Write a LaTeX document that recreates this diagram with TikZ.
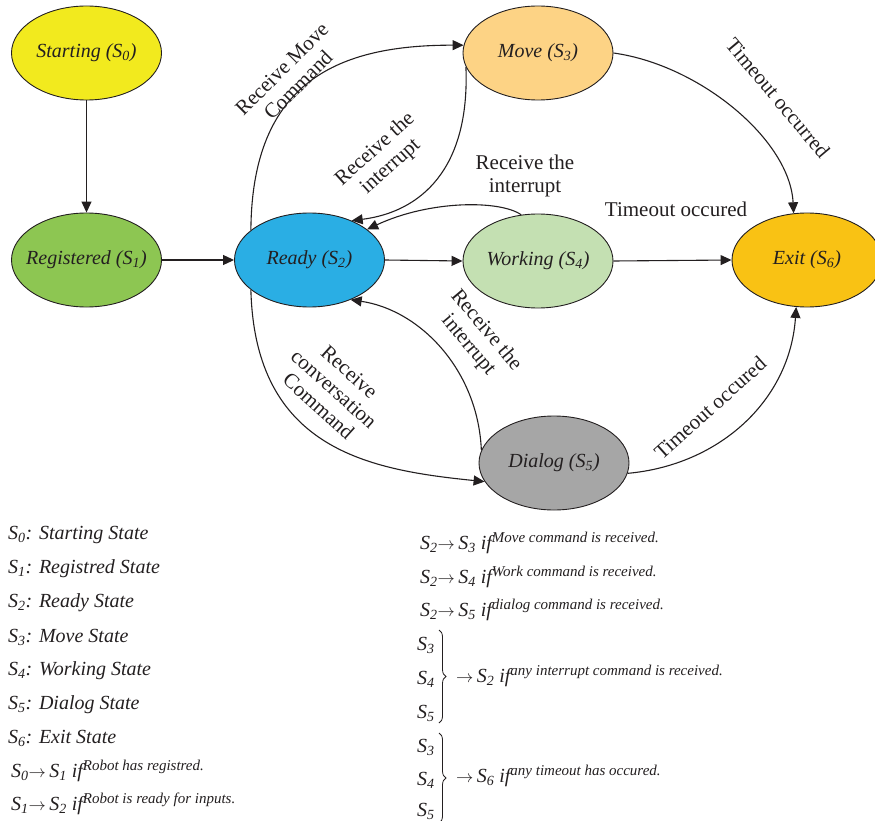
\documentclass[tikz,border=0pt]{standalone}
\usepackage{fontspec}
\setmainfont{Liberation Serif}
\usetikzlibrary{arrows.meta,shapes.geometric,decorations.pathreplacing}
\definecolor{ink}{HTML}{231F20}
\definecolor{cStart}{HTML}{F2EA1E}
\definecolor{cReg}{HTML}{8DC652}
\definecolor{cReady}{HTML}{2AAEE4}
\definecolor{cMove}{HTML}{FDD385}
\definecolor{cWork}{HTML}{C4E0B2}
\definecolor{cExit}{HTML}{F9C214}
\definecolor{cDialog}{HTML}{A6A6A6}
% state name with an italic subscript
\newcommand{\Sx}[1]{S\textsubscript{#1}}
% raised condition text after "if"
\newcommand{\cond}[1]{\raisebox{7pt}{\fontsize{15}{15}\selectfont #1}}
% small arrow used in the transition rules
\newcommand{\goesto}{{\fontsize{17}{17}\selectfont$\rightarrow$}}
\begin{document}
\begin{tikzpicture}[x=1pt,y=-1pt,
  state/.style={ellipse, draw=ink, line width=0.9pt, minimum width=150pt,
    minimum height=94pt, inner sep=0pt, inner xsep=-12pt, text=ink,
    font=\fontsize{20}{22}\selectfont\itshape},
  edge/.style={draw=ink, line width=1.1pt, -{Triangle[length=11pt,width=10pt]}},
  lbl/.style={font=\fontsize{21}{23}\selectfont, text=ink, align=center, inner sep=0pt},
  leg/.style={font=\fontsize{20}{22}\selectfont\itshape, text=ink, anchor=base west, inner sep=0pt},
  bracket/.style={draw=ink, line width=0.8pt, decorate, decoration={brace, amplitude=7pt}}]
\useasboundingbox (0,0) rectangle (875,821);

% states
\node[state, fill=cStart]  (s0) at (86.5,53)  {Starting (\Sx{0})};
\node[state, fill=cReg]    (s1) at (86.5,260) {Registered (\Sx{1})};
\node[state, fill=cReady]  (s2) at (309.5,260) {Ready (\Sx{2})};
\node[state, fill=cMove]   (s3) at (538,53)   {Move (\Sx{3})};
\node[state, fill=cWork]   (s4) at (538,261)  {Working (\Sx{4})};
\node[state, fill=cDialog] (s5) at (554,463)  {Dialog (\Sx{5})};
\node[state, fill=cExit]   (s6) at (807,260)  {Exit (\Sx{6})};

% transitions
\draw[edge] (s0.south) -- (s1.north);
\draw[edge] (s1.east) -- (s2.west);
\draw[edge] (s2.153) .. controls (252,80) and (340,45) .. (s3.174);
\draw[edge] (s3.191) .. controls (470,170) and (420,212) .. (s2.43);
\draw[edge] (s4.110) .. controls (500,200) and (430,200) .. (s2.28);
\draw[edge] (s2.east) -- (s4.west);
\draw[edge] (s4.east) -- (s6.west);
\draw[edge] (s3.east) .. controls (700,65) and (790,140) .. (s6.106);
\draw[edge] (s2.207) .. controls (255,450) and (370,470) .. (s5.195);
\draw[edge] (s5.170) .. controls (478,370) and (420,310) .. (s2.-44);
\draw[edge] (s5.-8) .. controls (720,465) and (790,400) .. (s6.-103);

% transition labels
\node[lbl, rotate=45]  (t23) at (290,77)  {Receive Move\\Command};
\node[lbl, rotate=42]  (t32) at (383,158) {Receive the\\interrupt};
\node[lbl]             (t42) at (525,176) {Receive the\\interrupt};
\node[lbl]             (t46) at (676,209) {Timeout occured};
\node[lbl, rotate=-50] (t36) at (778,98)  {Timeout occurred};
\node[lbl, rotate=-42] (t25) at (334,389) {Receive\\conversation\\Command};
\node[lbl, rotate=-50] (t52) at (477,338) {Receive the\\interrupt};
\node[lbl, rotate=42]  (t56) at (710,408) {Timeout occured};

% legend: states
\node[leg] (d0) at (8,539) {\Sx{0}: Starting State};
\node[leg] (d1) at (8,573) {\Sx{1}: Registred State};
\node[leg] (d2) at (8,607) {\Sx{2}: Ready State};
\node[leg] (d3) at (8,642) {\Sx{3}: Move State};
\node[leg] (d4) at (8,675) {\Sx{4}: Working State};
\node[leg] (d5) at (8,709) {\Sx{5}: Dialog State};
\node[leg] (d6) at (8,743) {\Sx{6}: Exit State};
\node[leg] (d7) at (11,777) {\Sx{0}\goesto\,\Sx{1} if\cond{Robot has registred.}};
\node[leg] (d8) at (11,810) {\Sx{1}\goesto\,\Sx{2} if\cond{Robot is ready for inputs.}};

% legend: transitions
\node[leg] (r1) at (420,549) {\Sx{2}\goesto\,\Sx{3} if\cond{Move command is received.}};
\node[leg] (r2) at (420,583) {\Sx{2}\goesto\,\Sx{4} if\cond{Work command is received.}};
\node[leg] (r3) at (420,616) {\Sx{2}\goesto\,\Sx{5} if\cond{dialog command is received.}};

\node[leg] (g1a) at (417,650) {\Sx{3}};
\node[leg] (g1b) at (417,684) {\Sx{4}};
\node[leg] (g1c) at (417,718) {\Sx{5}};
\draw[bracket] (439,630) -- (439,723);
\node[leg] (g1r) at (456,682) {\goesto\,\Sx{2} if\cond{any interrupt command is received.}};

\node[leg] (g2a) at (417,752) {\Sx{3}};
\node[leg] (g2b) at (417,785) {\Sx{4}};
\node[leg] (g2c) at (417,816) {\Sx{5}};
\draw[bracket] (439,733) -- (439,823);
\node[leg] (g2r) at (456,782) {\goesto\,\Sx{6} if\cond{any timeout has occured.}};
\end{tikzpicture}
\end{document}
